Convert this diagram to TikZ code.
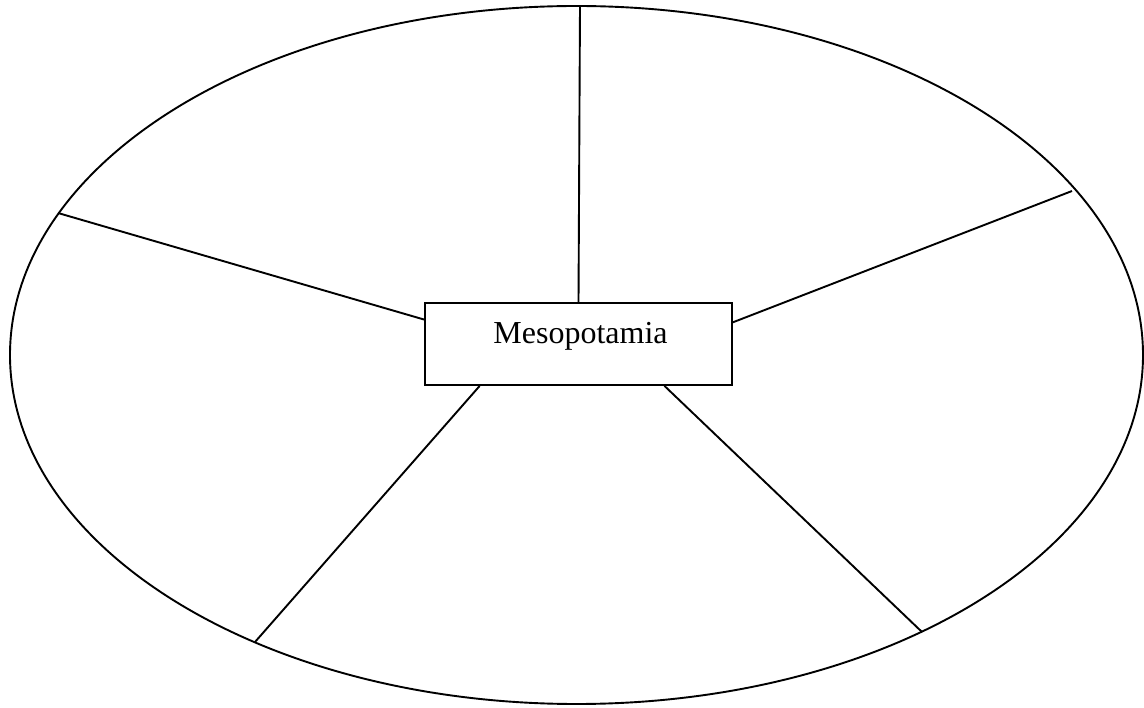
\documentclass[tikz,border=0pt]{standalone}
\usepackage{fontspec}
\setmainfont{Liberation Serif}
\usetikzlibrary{shapes.geometric}
\begin{document}
\begin{tikzpicture}[x=1pt,y=-1pt,
  ink/.style={line width=1.9pt,black},
  topic/.style={ink,draw,rectangle,fill=white,minimum width=307pt,minimum height=82pt,
    inner sep=0pt,text height=10pt,text depth=10pt,font=\fontsize{32}{38}\selectfont},
  rim/.style={ink,draw,ellipse,inner sep=0pt,minimum width=1133pt,minimum height=698pt}]
  \useasboundingbox (0,0) rectangle (1144,708);
  % outer ellipse
  \node[rim] (oval) at (576.5,355) {};
  % spoke ends on the ellipse
  \coordinate (ptop) at (580,6);
  \coordinate (pul) at (58,213);
  \coordinate (pur) at (1072,191);
  \coordinate (pll) at (255,642);
  \coordinate (plr) at (922,632);
  % central topic box
  \node[topic] (box) at (578.5,344) {\hspace*{4pt}Mesopotamia};
  % spokes
  \draw[ink] (box.north) -- (ptop);
  \draw[ink] (box.171.1) -- (pul);
  \draw[ink] (box.8.8) -- (pur);
  \draw[ink] (box.203.7) -- (pll);
  \draw[ink] (box.334.1) -- (plr);
\end{tikzpicture}
\end{document}
